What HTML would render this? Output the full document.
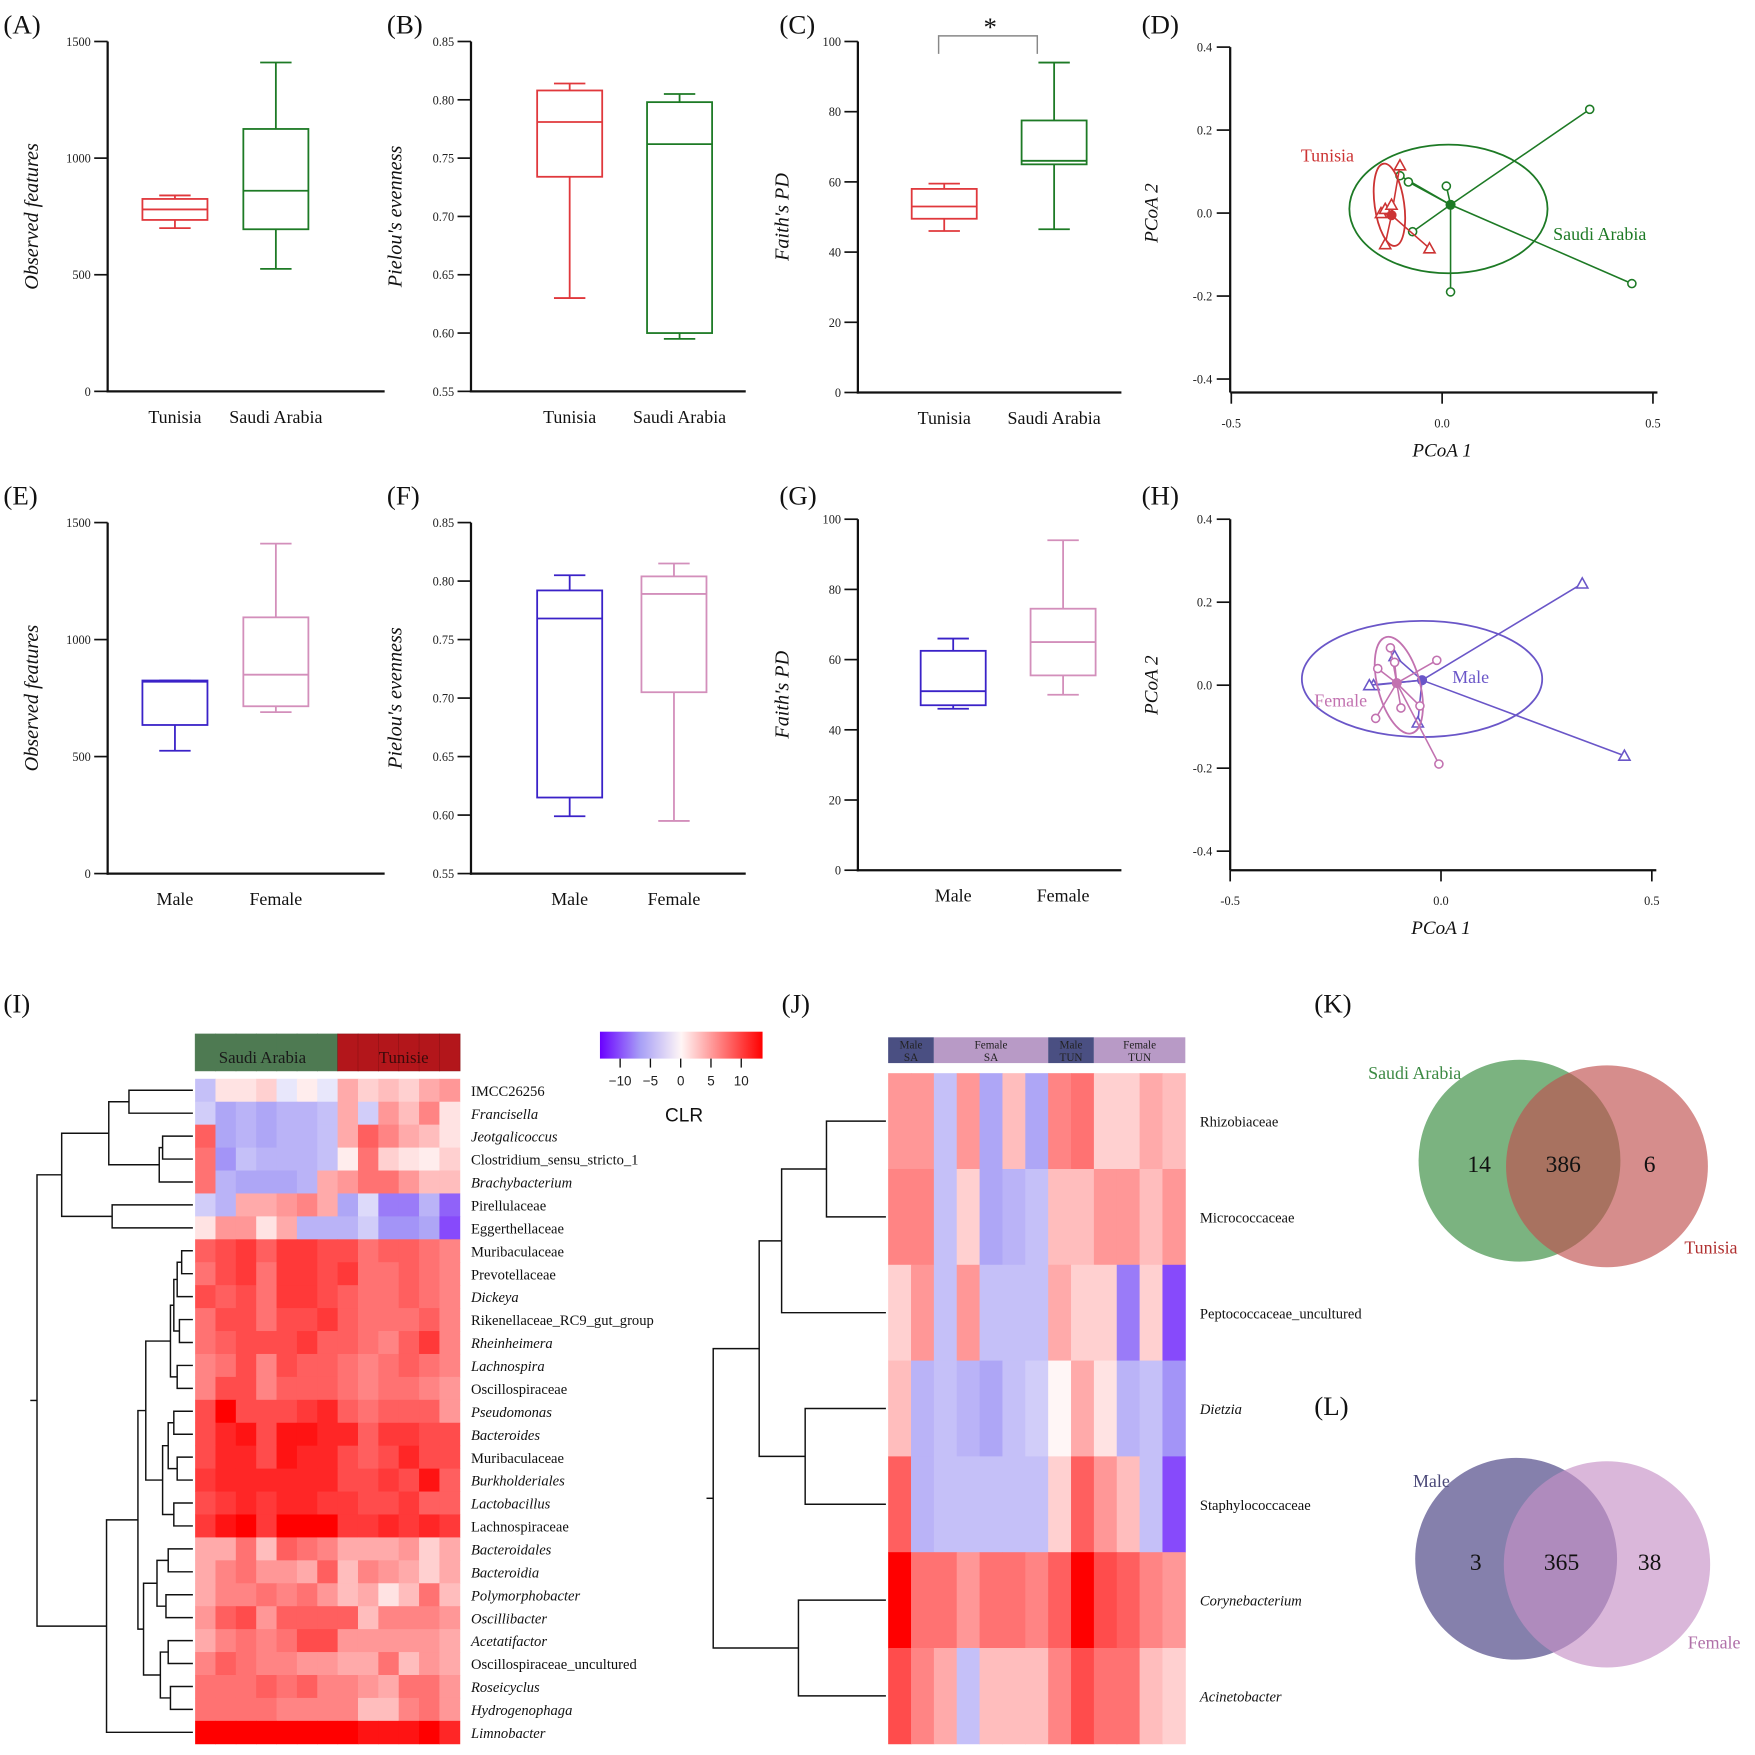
<!DOCTYPE html>
<html><head><meta charset="utf-8"><style>
html,body{margin:0;padding:0;background:#fff;}
svg{display:block;font-family:"Liberation Serif",serif;}
</style></head><body>
<svg id="fig" xmlns="http://www.w3.org/2000/svg" width="1755" height="1755" viewBox="0 0 1565 1565"></svg>
<script>
// ---------- DATA ----------
const catsTS=['Tunisia','Saudi Arabia'];
const catsMF=['Male','Female'];
const boxA_tun=[700,735,780,825,840];
const boxA_sa=[525,695,860,1125,1410];
const boxB_tun=[0.630,0.734,0.781,0.808,0.814];
const boxB_sa=[0.595,0.600,0.762,0.798,0.805];
const boxC_tun=[46,49.5,53,58,59.5];
const boxC_sa=[46.5,65,66,77.5,94];
const boxE_m=[525,635,820,825,825];
const boxE_f=[690,715,850,1095,1410];
const boxF_m=[0.599,0.615,0.768,0.792,0.805];
const boxF_f=[0.595,0.705,0.789,0.804,0.815];
const boxG_m=[46,47,51,62.5,66];
const boxG_f=[50,55.5,65,74.5,94];
const ticksCount=[0,500,1000,1500];
const ticksEven=[0.55,0.60,0.65,0.70,0.75,0.80,0.85];
const ticksFaith=[0,20,40,60,80,100];
const ticksPC=[-0.4,-0.2,0.0,0.2,0.4];
const ticksPCx=[-0.5,0.0,0.5];
const pcD_sa_x=[0.35,0.45,0.01,0.02,-0.10,-0.08,-0.07];
const pcD_sa_y=[0.25,-0.17,0.065,-0.19,0.09,0.075,-0.045];
const pcD_sa_c=[0.02,0.02];
const pcD_tn_x=[-0.10,-0.03,-0.135,-0.145,-0.135,-0.12];
const pcD_tn_y=[0.115,-0.085,-0.075,0.0,0.01,0.02];
const pcD_tn_c=[-0.12,-0.005];
const pcH_m_x=[0.335,0.435,-0.16,-0.055,-0.11,-0.17];
const pcH_m_y=[0.245,-0.17,0.0,-0.09,0.07,0.0];
const pcH_m_c=[-0.045,0.012];
const pcH_f_x=[-0.005,-0.155,-0.12,-0.11,-0.05,-0.095,-0.01,-0.15];
const pcH_f_y=[-0.19,-0.08,0.09,0.055,-0.05,-0.055,0.06,0.04];
const pcH_f_c=[-0.105,0.005];
const taxaI=['IMCC26256','Francisella','Jeotgalicoccus','Clostridium_sensu_stricto_1','Brachybacterium','Pirellulaceae','Eggerthellaceae','Muribaculaceae','Prevotellaceae','Dickeya','Rikenellaceae_RC9_gut_group','Rheinheimera','Lachnospira','Oscillospiraceae','Pseudomonas','Bacteroides','Muribaculaceae','Burkholderiales','Lactobacillus','Lachnospiraceae','Bacteroidales','Bacteroidia','Polymorphobacter','Oscillibacter','Acetatifactor','Oscillospiraceae_uncultured','Roseicyclus','Hydrogenophaga','Limnobacter'];
const italI=[0,1,1,0,1,0,0,0,0,1,0,1,1,0,1,1,0,1,1,0,1,1,1,1,1,0,1,1,1];
const heatI=[
[-4,1,1,2,-1,0.5,-1,4,2,3,2,4,5],
[-3,-6,-5,-6,-5,-5,-4,4,-3,5,3,6,1],
[8,-6,-5,-6,-5,-5,-4,4,8,6,4,3,1],
[7,-7,-4,-5,-5,-5,-4,0.5,7,2,1,0.5,2],
[7,-5,-6,-6,-6,-5,4,5,7,7,5,3,3],
[-3,-5,4,4,5,6,4,-6,-2,-8,-8,-5,-9],
[1,5,5,1,4,-5,-5,-5,-3,-7,-7,-6,-10],
[8,9,10,8,10,10,9,9,7,8,8,7,6],
[7,9,10,7,10,10,9,10,7,7,8,7,6],
[9,8,9,7,10,10,9,8,7,7,8,7,6],
[7,9,9,7,9,9,10,8,7,7,7,8,6],
[7,8,9,9,9,10,8,8,7,6,8,10,6],
[6,7,9,6,9,8,8,7,6,7,8,7,6],
[6,9,9,6,8,8,8,7,6,7,7,6,5],
[9,13,9,9,9,10,11,8,7,8,8,8,5],
[9,11,12,9,12,12,11,11,8,10,10,9,9],
[9,11,11,9,12,11,11,9,8,9,11,9,9],
[10,11,11,11,11,11,11,9,9,10,9,12,8],
[9,10,11,10,11,11,10,10,9,9,10,8,8],
[10,12,13,10,13,13,13,10,10,11,10,11,10],
[4,4,7,3,8,7,6,4,4,4,5,2,4],
[4,6,7,5,5,4,8,3,6,5,4,2,4],
[4,6,6,7,6,7,5,3,4,1,3,7,3],
[5,8,9,5,8,8,8,8,3,6,6,6,5],
[4,6,7,6,7,9,9,5,5,5,5,5,4],
[6,8,7,6,6,5,5,4,4,7,3,5,4],
[7,7,7,8,7,8,6,6,5,4,7,7,5],
[7,7,7,7,6,6,6,6,3,3,6,7,5],
[13,13,13,13,13,13,13,13,12,12,12,13,11]];
const taxaJ=['Rhizobiaceae','Micrococcaceae','Peptococcaceae_uncultured','Dietzia','Staphylococcaceae','Corynebacterium','Acinetobacter'];
const italJ=[0,0,0,1,0,1,1];
const heatJ=[
[5,5,-4,5,-6,3,-6,6,7,2,2,4,3],
[6,6,-4,2,-6,-5,-4,3,3,5,5,3,5],
[2,5,-4,5,-4,-4,-4,4,2,2,-8,2,-10],
[3,-5,-4,-5,-6,-4,-3,0,4,1,-5,-4,-7],
[8,-5,-4,-4,-4,-4,-4,2,8,5,3,-4,-10],
[13,7,7,5,7,7,6,8,13,9,8,6,5],
[9,6,4,-4,3,3,3,6,9,7,7,3,2]];
const treeI=[[[[0,1,115],[[2,3,145],4,142],97],[5,6,100],55],[[[[[[[7,8,162],9,158],[10,11,160],155],[12,13,158],152],[[[14,15,155],[16,17,158],150],[18,19,155],145],130],[[[20,21,150],[22,23,148],140],[[24,25,150],[26,27,152],143],128],123],28,95],33];
const treeJ=[[[[0,1,737],2,697],[3,4,718],677],[5,6,712],636];
const vennK=[14,386,6];
const vennL=[3,365,38];

// ---------- HELPERS ----------
const NS='http://www.w3.org/2000/svg';
const svg=document.getElementById('fig');
function el(tag,attrs,parent){const e=document.createElementNS(NS,tag);for(const k in attrs)e.setAttribute(k,attrs[k]);(parent||svg).appendChild(e);return e;}
function txt(s,x,y,attrs,parent){const t=el('text',Object.assign({x:x,y:y},attrs),parent);t.textContent=s;return t;}
function grp(name){const g=el('g',{});return g;}

[['(A)',3,30],['(B)',345,30],['(C)',695,30],['(D)',1018,30],['(E)',3,450],['(F)',345,450],['(G)',695,450],['(H)',1018,450],['(I)',3,903],['(J)',697,903],['(K)',1172,903],['(L)',1172,1262]].forEach(p=>{
  const t=txt(p[0],p[1],p[2],{'font-size':24,fill:'#111'});
  
  
});

function boxPanel(name,ax,yTop,yBot,xEnd,vmin,vmax,ticks,fmt,cats,stats,colors,centers,title){
  const g=grp(name);
  const Y=v=>yBot-(v-vmin)/(vmax-vmin)*(yBot-yTop);
  const ya=el('line',{x1:ax,y1:yTop,x2:ax,y2:yBot+1,stroke:'#111','stroke-width':2},g);
  
  const xa=el('line',{x1:ax-1,y1:yBot,x2:xEnd,y2:yBot,stroke:'#111','stroke-width':2},g);
  
  ticks.forEach(v=>{
    el('line',{x1:ax-12,y1:Y(v),x2:ax,y2:Y(v),stroke:'#111','stroke-width':1.5},g);
    const t=txt(fmt(v),ax-15,Y(v)+4,{'font-size':11,'text-anchor':'end',fill:'#222'},g);
    
  });
  const tt=txt(title,0,0,{'font-size':18,'font-style':'italic','text-anchor':'middle',fill:'#111',transform:'translate('+(ax-62)+','+((yTop+yBot)/2)+') rotate(-90)'},g);
  
  cats.forEach((c,i)=>{
    const s=stats[i],cx=centers[i],col=colors[i],hw=29,cw=14;
    const b=grp('box-'+c.toLowerCase().replace(/ /g,'-'));g.appendChild(b);
    el('line',{x1:cx,y1:Y(s[0]),x2:cx,y2:Y(s[1]),stroke:col,'stroke-width':1.6},b);
    el('line',{x1:cx,y1:Y(s[3]),x2:cx,y2:Y(s[4]),stroke:col,'stroke-width':1.6},b);
    el('line',{x1:cx-cw,y1:Y(s[0]),x2:cx+cw,y2:Y(s[0]),stroke:col,'stroke-width':1.6},b);
    el('line',{x1:cx-cw,y1:Y(s[4]),x2:cx+cw,y2:Y(s[4]),stroke:col,'stroke-width':1.6},b);
    el('rect',{x:cx-hw,y:Y(s[3]),width:2*hw,height:Y(s[1])-Y(s[3]),fill:'none',stroke:col,'stroke-width':1.6},b);
    el('line',{x1:cx-hw,y1:Y(s[2]),x2:cx+hw,y2:Y(s[2]),stroke:col,'stroke-width':1.6},b);
    const l=txt(c,cx,yBot+28,{'font-size':16,'text-anchor':'middle',fill:'#111'},g);
    
  });
  return Y;
}
const red='#e0383c',green='#1d7a25',blue='#3a22c8',pink='#d38fbb';
const f0=v=>String(v),f2=v=>v.toFixed(2);
boxPanel('panel-a-observed-features',96,37,349,343,0,1500,ticksCount,f0,catsTS,[boxA_tun,boxA_sa],[red,green],[156,246],'Observed features');
boxPanel('panel-b-pielou',420,37,349,665,0.55,0.85,ticksEven,f2,catsTS,[boxB_tun,boxB_sa],[red,green],[508,606],"Pielou's evenness");
boxPanel('panel-c-faith',765,37,350,1000,0,100,ticksFaith,f0,catsTS,[boxC_tun,boxC_sa],[red,green],[842,940],"Faith's PD");
boxPanel('panel-e-observed-features',96,466,779,343,0,1500,ticksCount,f0,catsMF,[boxE_m,boxE_f],[blue,pink],[156,246],'Observed features');
boxPanel('panel-f-pielou',420,466,779,665,0.55,0.85,ticksEven,f2,catsMF,[boxF_m,boxF_f],[blue,pink],[508,601],"Pielou's evenness");
boxPanel('panel-g-faith',765,463,776,1000,0,100,ticksFaith,f0,catsMF,[boxG_m,boxG_f],[blue,pink],[850,948],"Faith's PD");
const sig=el('path',{d:'M837 48 V32 H925 V48',fill:'none',stroke:'#888','stroke-width':1.3});

const st=txt('*',883,32,{'font-size':24,'text-anchor':'middle',fill:'#111'});


function pcoa(name,ax,x0,yTop,yZero,yBot,groups){
  const g=grp(name);
  const X=v=>x0+v*376, Y=v=>yZero-v*370;
  const ya=el('line',{x1:ax,y1:Y(0.4),x2:ax,y2:yBot,stroke:'#111','stroke-width':2},g);
  
  const xa=el('line',{x1:ax,y1:yBot,x2:X(0.5)+4,y2:yBot,stroke:'#111','stroke-width':2},g);
  
  ticksPC.forEach(v=>{el('line',{x1:ax-12,y1:Y(v),x2:ax,y2:Y(v),stroke:'#111','stroke-width':1.5},g);
    const t=txt(v.toFixed(1),ax-16,Y(v)+4,{'font-size':11,'text-anchor':'end',fill:'#222'},g);
    });
  ticksPCx.forEach(v=>{el('line',{x1:X(v),y1:yBot,x2:X(v),y2:yBot+10,stroke:'#111','stroke-width':1.5},g);
    const t=txt(v.toFixed(1),X(v),yBot+31,{'font-size':11,'text-anchor':'middle',fill:'#222'},g);
    });
  const xt=txt('PCoA 1',X(0),yBot+57,{'font-size':17,'font-style':'italic','text-anchor':'middle',fill:'#111'},g);
  
  const yt=txt('PCoA 2',0,0,{'font-size':17,'font-style':'italic','text-anchor':'middle',fill:'#111',transform:'translate('+(ax-65)+','+Y(0)+') rotate(-90)'},g);
  
  groups.forEach(gr=>{
    const sg=grp('group-'+gr.label.toLowerCase().replace(/ /g,'-'));g.appendChild(sg);
    const cx=X(gr.c[0]),cy=Y(gr.c[1]);
    el('ellipse',{cx:X(gr.e[0]),cy:Y(gr.e[1]),rx:gr.e[2]*376,ry:gr.e[3]*370,fill:'none',stroke:gr.col,'stroke-width':1.6,transform:'rotate('+gr.e[4]+' '+X(gr.e[0])+' '+Y(gr.e[1])+')'},sg);
    gr.x.forEach((v,i)=>{
      const px=X(v),py=Y(gr.y[i]);
      el('line',{x1:cx,y1:cy,x2:px,y2:py,stroke:gr.col,'stroke-width':1.4},sg);
      let m;
      if(gr.tri) m=el('path',{d:'M'+px+' '+(py-5)+' L'+(px+5)+' '+(py+4)+' L'+(px-5)+' '+(py+4)+' Z',fill:'#fff',stroke:gr.col,'stroke-width':1.4},sg);
      else m=el('circle',{cx:px,cy:py,r:3.6,fill:'#fff',stroke:gr.col,'stroke-width':1.4},sg);
      
    });
    el('circle',{cx:cx,cy:cy,r:4.5,fill:gr.col},sg);
    const l=txt(gr.label,gr.lx,gr.ly,{'font-size':16,fill:gr.col},sg);
    
  });
}
pcoa('panel-d-pcoa',1097,1286,42,190,350,[
  {label:'Saudi Arabia',col:'#1d7a25',x:pcD_sa_x,y:pcD_sa_y,c:pcD_sa_c,e:[0.015,0.01,0.235,0.155,0],tri:false,lx:1385,ly:214},
  {label:'Tunisia',col:'#cc3333',x:pcD_tn_x,y:pcD_tn_y,c:pcD_tn_c,e:[-0.125,0.02,0.035,0.1,-8],tri:true,lx:1160,ly:144}]);
pcoa('panel-h-pcoa',1097,1285,463,611,776,[
  {label:'Male',col:'#6a56c8',x:pcH_m_x,y:pcH_m_y,c:pcH_m_c,e:[-0.045,0.015,0.285,0.14,0],tri:true,lx:1295,ly:609},
  {label:'Female',col:'#c272b0',x:pcH_f_x,y:pcH_f_y,c:pcH_f_c,e:[-0.1,0.0,0.05,0.12,-15],tri:false,lx:1172,ly:630}]);

// ---------- HEATMAPS ----------
function mix(a,b,t){return a.map((v,i)=>Math.round(v+(b[i]-v)*t));}
function clr(v){
  const t=Math.max(-1,Math.min(1,v/13));
  let c;
  if(t>=0){c=[255,Math.round(246-246*t),Math.round(246-246*t)];}
  else{const a=-t;c=a<0.5?mix([244,244,252],[168,160,246],a/0.5):mix([168,160,246],[106,0,255],(a-0.5)/0.5);}
  return 'rgb('+c.join(',')+')';
}
function heatmap(name,data,taxa,ital,x0,y0,cw,rh,lx){
  const g=grp(name);
  data.forEach((row,i)=>row.forEach((v,j)=>{
    const r=el('rect',{x:x0+j*cw,y:y0+i*rh,width:cw+0.4,height:rh+0.4,fill:clr(v)},g);
    
  }));
  taxa.forEach((s,i)=>{
    const t=txt(s,lx,y0+i*rh+rh/2+5,{'font-size':13,fill:'#111','font-style':ital[i]?'italic':'normal'},g);
    
  });
}
function dendro(name,tree,leafX,y0,rh){
  const g=grp(name);
  function draw(n){
    if(typeof n==='number') return {x:leafX,y:y0+n*rh+rh/2};
    const a=draw(n[0]),b=draw(n[1]),x=n[2];
    el('path',{d:'M'+a.x+' '+a.y+' H'+x+' V'+b.y+' H'+b.x,fill:'none',stroke:'#111','stroke-width':1.3},g);
    return {x:x,y:(a.y+b.y)/2};
  }
  const r=draw(tree);
  el('line',{x1:r.x-6,y1:r.y,x2:r.x,y2:r.y,stroke:'#111','stroke-width':1.3},g);
}
const rhI=(1555-962)/29;
heatmap('heatmap-i',heatI,taxaI,italI,174,962,(410-174)/13,rhI,420);
dendro('dendrogram-i',treeI,172,962,rhI);
(function(){
  const g=grp('annotation-bar-country');
  const cw=(410-174)/13;
  for(let j=0;j<13;j++){el('rect',{x:174+j*cw,y:922,width:cw+0.3,height:33,fill:j<7?'#4e7a52':'#b3161b',stroke:j<7?'#4e7a52':'#8a1014','stroke-width':0.5},g);}
  const a=txt('Saudi Arabia',234,948,{'font-size':15,'text-anchor':'middle',fill:'#1a1a1a'},g);
  
  const b=txt('Tunisie',360,948,{'font-size':15,'text-anchor':'middle',fill:'#3a0a0a'},g);
  
})();
(function(){
  const g=grp('colorbar-clr');
  const defs=el('defs',{},g);
  const lg=el('linearGradient',{id:'cg',x1:0,x2:1,y1:0,y2:0},defs);
  [-13,-6.5,0,6.5,13].forEach((v,i)=>el('stop',{offset:(i*25)+'%','stop-color':clr(v)},lg));
  el('rect',{x:535,y:920,width:145,height:24,fill:'url(#cg)'},g);
  const X=v=>607+v*5.4;
  [-10,-5,0,5,10].forEach(v=>{el('line',{x1:X(v),y1:944,x2:X(v),y2:952,stroke:'#111','stroke-width':1.2},g);
    const t=txt(v<0?'\u2212'+(-v):String(v),X(v),968,{'font-size':12,'text-anchor':'middle','font-family':'Liberation Sans, sans-serif',fill:'#222'},g);
    });
  const c=txt('CLR',610,1000,{'font-size':17,'text-anchor':'middle','font-family':'Liberation Sans, sans-serif',fill:'#111'},g);
  
})();
const rhJ=(1555-957)/7;
heatmap('heatmap-j',heatJ,taxaJ,italJ,792,957,(1057-792)/13,rhJ,1070);
dendro('dendrogram-j',treeJ,790,957,rhJ);
(function(){
  const g=grp('annotation-bar-sex-country');
  const cw=(1057-792)/13;
  const segs=[[0,2,'#4a4f82','Male','SA'],[2,7,'#b89ac6','Female','SA'],[7,9,'#4a4f82','Male','TUN'],[9,13,'#b89ac6','Female','TUN']];
  segs.forEach(s=>{
    el('rect',{x:792+s[0]*cw,y:925,width:(s[1]-s[0])*cw,height:23,fill:s[2]},g);
    const cx=792+(s[0]+s[1])/2*cw;
    const t1=txt(s[3],cx,935,{'font-size':10,'text-anchor':'middle',fill:'#222'},g);
    
    const t2=txt(s[4],cx,946,{'font-size':10,'text-anchor':'middle',fill:'#222'},g);
    
  });
})();

// ---------- VENN ----------
function venn(name,vals,c1,c2,col1,col2,lab1,lab2,l1,l2,lc1,lc2,ny){
  const g=grp(name);
  el('circle',{cx:c1[0],cy:c1[1],r:c1[2],fill:col1,'fill-opacity':0.75},g);
  el('circle',{cx:c2[0],cy:c2[1],r:c2[2],fill:col2,'fill-opacity':0.65},g);
  const xs=[c1[0]-36,(c1[0]+c2[0])/2,c2[0]+38];
  vals.forEach((v,i)=>{const t=txt(String(v),xs[i],ny,{'font-size':21,'text-anchor':'middle',fill:'#111'},g);
    });
  const a=txt(lab1,l1[0],l1[1],{'font-size':16,fill:lc1},g);
  const b=txt(lab2,l2[0],l2[1],{'font-size':16,fill:lc2},g);
}
venn('venn-k-country',vennK,[1355,1035,90],[1433,1040,90],'#4f9a55','#c0504f','Saudi Arabia','Tunisia',[1220,962],[1502,1118],'#3d8a44','#b03030',1045);
venn('venn-l-sex',vennL,[1352,1390,90],[1433,1395,92],'#5c5690','#c690c6','Male','Female',[1260,1326],[1505,1470],'#4a4878','#b070a8',1400);
</script>
</body></html>
